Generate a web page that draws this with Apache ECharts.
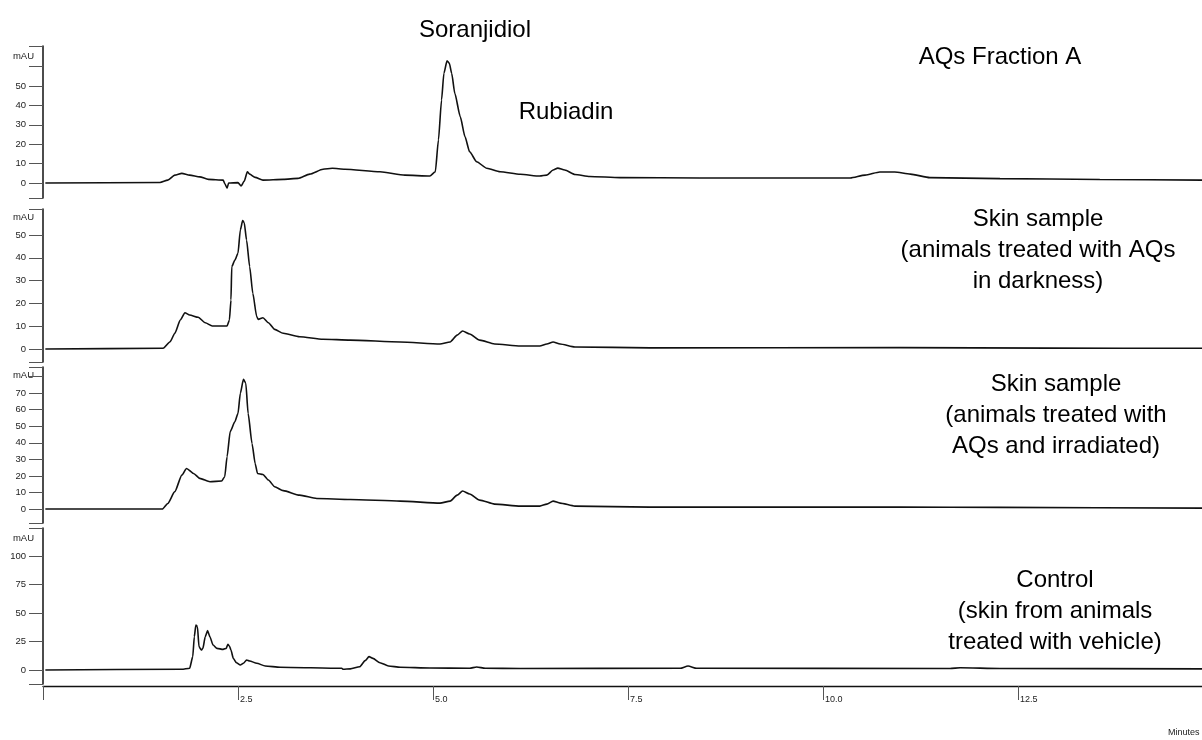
<!DOCTYPE html>
<html>
<head>
<meta charset="utf-8">
<script src="https://cdn.jsdelivr.net/npm/echarts@6/dist/echarts.min.js"></script>
<style>html,body{margin:0;padding:0;background:#fff}#c{width:1202px;height:740px}</style>
</head>
<body>
<div id="c"></div>
<script>
// ---- data (time in minutes, absorbance in mAU) ----
const fractionTimes  = [0.03,1.5,1.6,1.69,1.78,1.88,2.01,2.12,2.31,2.33,2.36,2.38,2.5,2.54,2.58,2.62,2.65,2.72,2.82,3.08,3.27,3.42,3.59,3.71,3.87,4.32,4.64,4.96,5.03,5.07,5.11,5.14,5.18,5.21,5.24,5.28,5.35,5.41,5.47,5.56,5.69,5.86,6.12,6.37,6.46,6.54,6.6,6.69,6.82,7.01,7.4,8.42,10.35,10.54,10.73,10.92,11.12,11.37,12.27,13.55,14.86];
const fractionValues = [0,0.3,1.5,4.1,5.0,4.1,3.2,1.9,1.5,-0.2,-2.6,0,0.2,-1.5,1,5.8,4.6,2.9,1.5,1.9,2.4,4.6,7.1,7.6,7.1,5.8,4.1,3.6,5.8,22.2,42.8,56.5,63.0,61.7,56.5,46.2,34.2,23.9,16.1,11.0,7.6,5.8,4.5,3.6,4.1,6.7,7.7,6.7,4.4,3.4,2.8,2.6,2.6,4.1,5.7,5.7,4.6,2.8,2.3,1.8,1.5];

const darkTimes  = [0.03,1.54,1.63,1.69,1.76,1.82,1.88,1.99,2.08,2.17,2.36,2.39,2.41,2.42,2.46,2.5,2.53,2.56,2.58,2.61,2.65,2.69,2.74,2.76,2.82,2.89,2.97,3.08,3.29,3.59,3.94,4.58,5.09,5.22,5.31,5.38,5.47,5.6,5.79,6.12,6.37,6.46,6.54,6.63,6.82,7.78,10.99,12.91,14.86];
const darkValues = [0,0.3,3.2,6.9,12.7,15.9,14.9,13.9,11.5,10.1,10.1,12.7,21.5,36.1,39.0,42.0,52.2,56.3,55.4,47.8,36.1,24.4,14.2,13.0,13.7,11.5,8.6,6.9,5.4,4.3,3.9,3.1,2.2,3.1,6.1,7.9,6.6,3.9,2.2,1.3,1.3,2.2,3.1,2.2,0.9,0.5,0.6,0.4,0.3];

const irradTimes  = [0.03,1.53,1.6,1.69,1.78,1.84,1.93,2.01,2.14,2.29,2.33,2.36,2.4,2.46,2.5,2.53,2.57,2.6,2.63,2.68,2.72,2.75,2.82,2.89,2.97,3.08,3.29,3.51,3.94,4.58,5.09,5.22,5.31,5.38,5.47,5.6,5.79,6.12,6.37,6.46,6.54,6.63,6.82,7.78,10.99,12.27,14.86];
const irradValues = [0,0,3.4,10.5,20.5,24.5,21.5,18.5,16.5,16.9,19.5,31.6,46.7,52.7,57.7,69.8,78.3,75.9,57.7,39.6,27.5,21.5,20.9,17.5,13.5,11.1,8.4,6.4,5.8,4.8,3.6,4.8,8.4,10.9,9.1,5.4,3.0,1.8,1.8,3.0,4.8,3.6,1.8,1.2,1.2,1.0,0.6];

const controlTimes  = [0.03,1.78,1.88,1.92,1.94,1.96,1.98,2.0,2.03,2.05,2.08,2.11,2.14,2.18,2.23,2.31,2.35,2.37,2.39,2.41,2.44,2.48,2.53,2.57,2.61,2.65,2.74,2.85,3.04,3.83,3.85,3.94,4.06,4.13,4.18,4.23,4.32,4.43,4.58,4.96,5.47,5.56,5.67,6.12,8.17,8.27,8.38,11.63,11.76,12.27,14.86];
const controlValues = [0,0.6,1.5,11.7,29.2,39.5,38.0,20.5,17.5,19.0,29.2,34.5,29.2,21.9,19.0,18.1,19.0,22.5,21.1,17.5,10.2,6.4,4.4,5.9,8.8,7.9,5.9,3.5,2.4,1.5,0.6,1.0,2.9,8.2,11.7,10.2,6.4,3.5,2.4,1.8,1.5,2.6,1.5,1.3,1.5,3.5,1.5,1.3,2.0,1.3,1.0];

const xTickValues  = [0, 2.5, 5, 7.5, 10, 12.5];
const xLabelValues = [2.5, 5, 7.5, 10, 12.5];

const p1Labels = [0,10,20,30,40,50];
const p2Labels = [0,10,20,30,40,50];
const p3Labels = [0,10,20,30,40,50,60,70];
const p4Labels = [0,25,50,75,100];

const annotations = [
  {text:'Soranjidiol', x:475, y:30},
  {text:'Rubiadin', x:566, y:112},
  {text:'AQs Fraction A', x:1000, y:57},
  {text:'Skin sample\n(animals treated with AQs\nin darkness)', x:1038, y:250},
  {text:'Skin sample\n(animals treated with\nAQs and irradiated)', x:1056, y:415},
  {text:'Control\n(skin from animals\ntreated with vehicle)', x:1055, y:611}
];

// ---- build chart ----
const zip = (t, v) => t.map((x, i) => [x, v[i]]);
const FONT = '"Liberation Sans", Arial, Helvetica, sans-serif';
const XMAX = 14.86;

const panels = [
  {top:46,  bottom:198, min:-7.7,  max:70.6,  ticks:[0,10,20,30,40,50,60], labels:p1Labels, data:zip(fractionTimes, fractionValues), nameGap:-10},
  {top:209, bottom:362, min:-5.7,  max:61.4,  ticks:[0,10,20,30,40,50],    labels:p2Labels, data:zip(darkTimes, darkValues), nameGap:-8},
  {top:367, bottom:523, min:-8.4,  max:85.7,  ticks:[0,10,20,30,40,50,60,70,80], labels:p3Labels, data:zip(irradTimes, irradValues), nameGap:-8},
  {top:528, bottom:684, min:-12.3, max:124.6, ticks:[0,25,50,75,100],      labels:p4Labels, data:zip(controlTimes, controlValues), nameGap:-10}
];

const grid = [], xAxis = [], yAxis = [], series = [];
panels.forEach((p, i) => {
  grid.push({left:43, right:0, top:p.top, height:p.bottom - p.top, outerBoundsMode:'none', containLabel:false});
  const last = i === panels.length - 1;
  xAxis.push({
    type:'value', gridIndex:i, min:0, max:XMAX, show:last, offset:2,
    axisLine:{show:true, onZero:false, lineStyle:{color:'#111', width:1.3}},
    axisTick:{show:true, length:14, inside:false, customValues:xTickValues, lineStyle:{color:'#555', width:1}},
    axisLabel:{show:true, customValues:xLabelValues, align:'left', margin:9, padding:[0,0,0,2],
      color:'#222', fontSize:9, fontFamily:FONT, formatter:v => v.toFixed(1)},
    splitLine:{show:false}
  });
  yAxis.push({
    type:'value', gridIndex:i, min:p.min, max:p.max,
    name:'mAU', nameLocation:'end', nameGap:p.nameGap,
    nameTextStyle:{align:'right', verticalAlign:'middle', padding:[0,9,0,0], color:'#222', fontSize:9.5, fontFamily:FONT},
    axisLine:{show:true, onZero:false, lineStyle:{color:'#111', width:1.5}},
    axisTick:{show:true, length:14, customValues:[p.min].concat(p.ticks, [p.max]), lineStyle:{color:'#555', width:1}},
    axisLabel:{show:true, customValues:p.labels, margin:17, color:'#222', fontSize:9.5, fontFamily:FONT},
    splitLine:{show:false}
  });
  series.push({
    type:'line', xAxisIndex:i, yAxisIndex:i, data:p.data, showSymbol:false, symbol:'none',
    smooth:0.2, smoothMonotone:'x', lineStyle:{color:'#111', width:1.6}, silent:true
  });
});

const title = annotations.map(a => ({
  text:a.text, left:a.x, top:a.y, textAlign:'center', textVerticalAlign:'middle', padding:0,
  textStyle:{color:'#000', fontSize:24, fontWeight:'normal', fontFamily:FONT, lineHeight:31}
}));
title.push({text:'Minutes', left:1168, top:733, textAlign:'left', textVerticalAlign:'middle', padding:0,
  textStyle:{color:'#222', fontSize:9, fontWeight:'normal', fontFamily:FONT}});

const chart = echarts.init(document.getElementById('c'), null, {renderer:'canvas'});
chart.setOption({animation:false, backgroundColor:'#fff', title, grid, xAxis, yAxis, series});
</script>
</body>
</html>
